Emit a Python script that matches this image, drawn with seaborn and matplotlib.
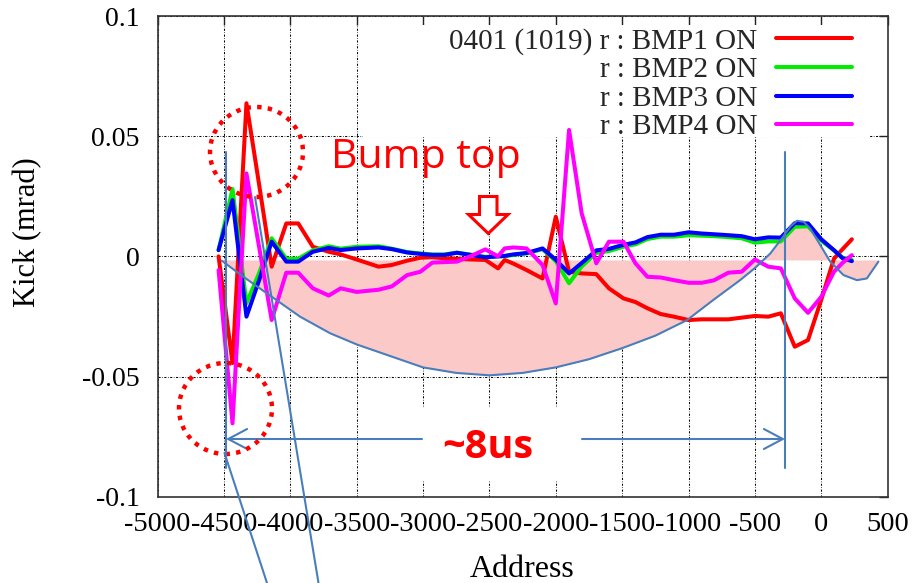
import matplotlib
matplotlib.use("Agg")
import matplotlib.pyplot as plt
import pandas as pd
import seaborn as sns
from matplotlib.patches import Ellipse, Polygon, Rectangle
from matplotlib.lines import Line2D

# ---- measured kicks per address -------------------------------------------
address = [-4540, -4435, -4330, -4235, -4140, -4030, -3940, -3830, -3710, -3620,
           -3500, -3335, -3235, -3120, -3020, -2930, -2840, -2745, -2645, -2530,
           -2435, -2385, -2320, -2220, -2100, -2000, -1900, -1805, -1695, -1600,
           -1490, -1400, -1310, -1210, -1110, -1000, -900, -810, -700, -600,
           -500, -400, -305, -200, -100, 0, 95, 160, 230]

bmp1 = [0.0000, -0.0444, 0.0637, 0.0300, -0.0043, 0.0137, 0.0137, 0.0040, 0.0019, 0.0008,
        -0.0013, -0.0043, -0.0036, -0.0018, -0.0006, -0.0004, -0.0008, -0.0010, -0.0013, -0.0015,
        -0.0050, -0.0015, -0.0030, -0.0057, -0.0092, 0.0165, -0.0064, -0.0071, -0.0074, -0.0133,
        -0.0175, -0.0190, -0.0216, -0.0240, -0.0251, -0.0265, -0.0262, -0.0262, -0.0262, -0.0255,
        -0.0248, -0.0251, -0.0237, -0.0376, -0.0348, -0.0180, -0.0010, 0.0030, 0.0071]

bmp2 = [0.0026, 0.0280, -0.0195, -0.0070, 0.0075, -0.0010, -0.0010, 0.0025, 0.0042, 0.0032,
        0.0040, 0.0042, 0.0032, 0.0018, 0.0012, 0.0008, 0.0008, 0.0015, 0.0008, -0.0002,
        0.0000, 0.0000, 0.0006, 0.0012, 0.0030, -0.0020, -0.0112, -0.0042, 0.0014, 0.0022,
        0.0040, 0.0050, 0.0072, 0.0082, 0.0082, 0.0088, 0.0086, 0.0084, 0.0080, 0.0075,
        0.0057, 0.0062, 0.0062, 0.0123, 0.0125, 0.0065, 0.0025, -0.0005, -0.0015]

bmp3 = [0.0026, 0.0234, -0.0251, -0.0100, 0.0061, -0.0022, -0.0022, 0.0019, 0.0035, 0.0026,
        0.0033, 0.0037, 0.0030, 0.0016, 0.0010, 0.0006, 0.0006, 0.0015, 0.0006, -0.0004,
        0.0000, 0.0002, 0.0008, 0.0014, 0.0033, -0.0014, -0.0071, -0.0028, 0.0025, 0.0031,
        0.0048, 0.0058, 0.0080, 0.0090, 0.0090, 0.0100, 0.0095, 0.0092, 0.0088, 0.0084,
        0.0071, 0.0079, 0.0078, 0.0138, 0.0137, 0.0071, 0.0026, -0.0008, -0.0020]

bmp4 = [-0.0057, -0.0695, 0.0345, 0.0040, -0.0265, -0.0068, -0.0068, -0.0133, -0.0163, -0.0133,
        -0.0148, -0.0139, -0.0125, -0.0078, -0.0064, -0.0026, -0.0024, -0.0022, 0.0000, 0.0029,
        0.0000, 0.0033, 0.0037, 0.0033, -0.0036, -0.0196, 0.0526, 0.0179, -0.0029, 0.0061,
        0.0061, -0.0029, -0.0085, -0.0088, -0.0099, -0.0110, -0.0110, -0.0100, -0.0068, -0.0064,
        -0.0013, -0.0043, -0.0050, -0.0175, -0.0235, -0.0168, -0.0064, -0.0027, 0.0005]

series_labels = ["0401 (1019) r : BMP1 ON", "r : BMP2 ON", "r : BMP3 ON", "r : BMP4 ON"]
series_colors = ["#ff0000", "#00ee00", "#0000ff", "#ff00ff"]

# expected bump shape (sketched envelope)
bump_x = [-4516, -4353, -4140, -3926, -3700, -3497, -3000, -2750, -2500, -2250,
          -2000, -1750, -1500, -1250, -1011, -815, -612, -503, -384, -297,
          -234, -184, -134, -84, -8, 67, 167, 268, 343, 430]
bump_y = [-0.0018, -0.0085, -0.0168, -0.0251, -0.0320, -0.0367, -0.0462, -0.0485, -0.0495, -0.0485,
          -0.0462, -0.0428, -0.0382, -0.0330, -0.0265, -0.0182, -0.0099, -0.0050, 0.0012, 0.0075,
          0.0123, 0.0148, 0.0144, 0.0116, 0.0047, -0.0022, -0.0078, -0.0099, -0.0092, -0.0022]
bump_base = -0.0015

x_ticks = [-5000, -4500, -4000, -3500, -3000, -2500, -2000, -1500, -1000, -500, 0, 500]
x_ticklabels = ["-5000", "-4500", "-4000", "-3500", "-3000", "-2500", "-2000",
                "-1500", "-1000", "-500", "0", "500"]
y_ticks = [-0.1, -0.05, 0.0, 0.05, 0.1]
y_ticklabels = ["-0.1", "-0.05", "0", "0.05", "0.1"]

# ---- figure -----------------------------------------------------------------
sns.set_theme(style="white")
plt.rcParams["font.family"] = ["Liberation Serif", "DejaVu Serif"]
plt.rcParams["axes.unicode_minus"] = False

W, H = 913, 583
fig = plt.figure(figsize=(W / 100, H / 100), dpi=100)
ax = fig.add_axes([157.5 / W, 1 - 496.7 / H, (887.7 - 157.5) / W, (496.7 - 16) / H])


def fp(x, y):
    """pixel position on the canvas -> figure fraction"""
    return (x / W, 1 - y / H)


frames = []
for lab, vals in zip(series_labels, [bmp1, bmp2, bmp3, bmp4]):
    frames.append(pd.DataFrame({"address": address, "kick": vals, "series": lab}))
df = pd.concat(frames, ignore_index=True)

LW = 2.9
sns.lineplot(data=df, x="address", y="kick", hue="series",
             palette=dict(zip(series_labels, series_colors)),
             hue_order=series_labels, sort=False, estimator=None,
             linewidth=LW, ax=ax, zorder=2)
handles, labels = ax.get_legend_handles_labels()
ax.get_legend().remove()

ax.set_xlim(-5000, 500)
ax.set_ylim(-0.1, 0.1)
ax.set_xticks(x_ticks)
ax.set_xticklabels(x_ticklabels)
ax.set_yticks(y_ticks)
ax.set_yticklabels(y_ticklabels)
ax.grid(True, color="black", linestyle=(0, (2, 1.5, 0.6, 1.5)), linewidth=0.75)
ax.tick_params(direction="in", length=6.5, width=1, top=True, right=True, colors="#222222")
ax.tick_params(axis="x", labelsize=20.5, pad=11, labelcolor="black")
ax.tick_params(axis="y", labelsize=20, pad=13, labelcolor="black")
for sp in ax.spines.values():
    sp.set_color("#333333")
    sp.set_linewidth(1.2)

ax.set_xlabel("Address", fontsize=23, color="black")
ax.set_ylabel("Kick (mrad)", fontsize=22, color="black")
ax.xaxis.set_label_coords(0.5, (496.7 - 555) / 480.7)
ax.yaxis.set_label_coords((42 - 157.5) / 730.2, (496.7 - 232) / 480.7)

leg = ax.legend(handles, labels, loc="upper right", markerfirst=False, frameon=False,
                fontsize=21, handlelength=2.6, handletextpad=0.65, labelspacing=0.07,
                borderpad=0, borderaxespad=0,
                bbox_to_anchor=fp(852, 28), bbox_transform=fig.transFigure)
for ln in leg.get_lines():
    ln.set_linewidth(LW)

# key area and label box hide the grid underneath
ax.add_patch(Rectangle(fp(363, 137), (870 - 363) / W, (137 - 25) / H,
                       transform=fig.transFigure, facecolor="white", edgecolor="none", zorder=1.6))
ax.add_patch(Rectangle(fp(422, 480), (582 - 422) / W, (480 - 408) / H,
                       transform=fig.transFigure, facecolor="white", edgecolor="none", zorder=1.6))

# bump envelope
ax.fill_between(bump_x, bump_y, bump_base, color="#fcc9c9", linewidth=0, zorder=1)
ax.plot(bump_x, bump_y, color="#4a7ebb", linewidth=1.5, zorder=2.5)

blue_line = "#4a7ebb"
for (x0, y0), (x1, y1) in [((226, 152), (226, 468)), ((785, 152), (785, 468)),
                           ((255, 197), (318.5, 583)), ((224.5, 453), (267, 583))]:
    a, b = fp(x0, y0), fp(x1, y1)
    fig.add_artist(Line2D([a[0], b[0]], [a[1], b[1]], color=blue_line, linewidth=1.5, zorder=3))

arrow_style = dict(arrowstyle="->,head_length=0.68,head_width=0.36", color=blue_line,
                   linewidth=1.5, shrinkA=0, shrinkB=0, mutation_scale=20)
ax.annotate("", xy=fp(226, 439), xytext=fp(422, 439), xycoords="figure fraction",
            textcoords="figure fraction", arrowprops=arrow_style, zorder=3)
ax.annotate("", xy=fp(785, 439), xytext=fp(582, 439), xycoords="figure fraction",
            textcoords="figure fraction", arrowprops=arrow_style, zorder=3)

fig.text(*fp(488, 447), "~8us", color="#ff0000", fontsize=28.5, fontweight="bold",
         family=["Open Sans", "DejaVu Sans"], ha="center", va="center", zorder=4)
fig.text(*fp(331, 168), "Bump top", color="#ff0000", fontsize=29.5,
         family=["Open Sans", "DejaVu Sans"], ha="left", va="baseline", zorder=4)

arrow_pts = [(479.5, 196.5), (497, 196.5), (497, 214.5), (508, 214.5), (488.3, 233.5),
             (468.5, 214.5), (479.5, 214.5)]
ax.add_patch(Polygon([fp(*p) for p in arrow_pts], closed=True, transform=fig.transFigure,
                     facecolor="white", edgecolor="#ff0000", linewidth=2.2,
                     joinstyle="miter", zorder=4))

for cx, cy, w, h in [(256.5, 152, 93, 90), (225.5, 408.5, 93, 91)]:
    ax.add_patch(Ellipse(fp(cx, cy), w / W, h / H, transform=fig.transFigure, fill=False,
                         edgecolor="#ff0000", linewidth=3.2, linestyle=(0, (1, 1.4)),
                         zorder=4, clip_on=False))

fig.savefig("out.png", dpi=100)
